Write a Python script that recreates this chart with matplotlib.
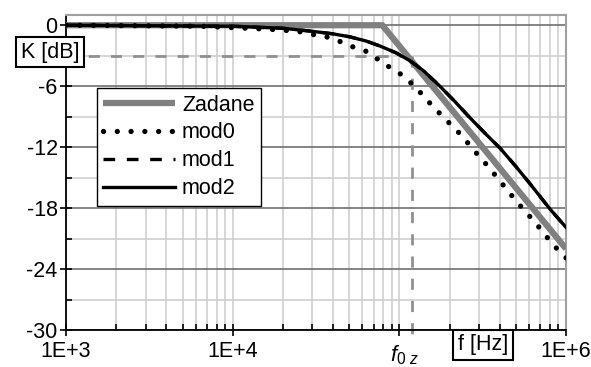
import numpy as np
import matplotlib
matplotlib.use("Agg")
import matplotlib.pyplot as plt
from matplotlib.ticker import FixedLocator, NullFormatter

plt.rcParams['font.family'] = ['Liberation Sans', 'DejaVu Sans']
plt.rcParams['mathtext.fontset'] = 'custom'
plt.rcParams['mathtext.rm'] = 'Liberation Sans'
plt.rcParams['mathtext.it'] = 'Liberation Sans:italic'

# data
zad_f = [1e3, 7.9e4, 1e6]
zad_db = [0, 0, -22]

mod0_f = [1e3, 6.4e3, 16.7e3, 24.6e3, 29.9e3, 35.8e3, 44e3, 52e3, 64e3, 73.5e3,
          86.7e3, 103.8e3, 119.5e3, 136.8e3, 157e3, 180e3, 207e3, 238e3, 273e3,
          305e3, 345e3, 391e3, 448e3, 508e3, 575e3, 652e3, 738e3, 836e3, 1e6]
mod0_db = [0, -0.1, -0.4, -0.6, -0.9, -1.1, -1.6, -2.1, -2.6, -3.3,
           -4.1, -4.9, -5.8, -6.8, -7.9, -8.9, -9.9, -10.9, -12.1,
           -13.0, -14.0, -15.1, -16.3, -17.4, -18.4, -19.4, -20.5, -21.6, -22.9]

mod2_f = [1e3, 10e3, 20e3, 30e3, 40e3, 50.6e3, 63e3, 76.6e3, 95e3, 115.9e3, 140e3,
          175e3, 215e3, 265e3, 325e3, 402e3, 500e3, 608e3, 802e3, 1e6]
mod2_db = [0, -0.1, -0.3, -0.6, -0.85, -1.15, -1.55, -2.05, -2.7, -3.5, -4.5,
           -6.0, -7.5, -9.1, -10.6, -12.1, -13.9, -15.6, -18.1, -19.9]

mod1_f = mod2_f
mod1_db = mod2_db

f0z = 1.19e5
k3db = -3

fig = plt.figure(figsize=(5.91, 3.67), dpi=100)
ax = fig.add_axes([0.1117, 0.1008, 0.8460, 0.8582])
ax.set_xscale('log')
ax.set_xlim(1e3, 1e6)
ax.set_ylim(-30, 1)

# grid
ax.yaxis.set_major_locator(FixedLocator(np.arange(-30, 1, 6)))
ax.yaxis.set_minor_locator(FixedLocator(np.arange(-27, 0, 6)))
ax.xaxis.set_major_locator(FixedLocator([1e3, 1e4, 1e5, 1e6]))
minors = [m * 10 ** d for d in (3, 4, 5) for m in range(2, 10)]
ax.xaxis.set_minor_locator(FixedLocator(minors))
ax.xaxis.set_minor_formatter(NullFormatter())
ax.set_xticklabels(['1E+3', '1E+4', '', '1E+6'])
ax.set_yticklabels([str(v) for v in range(-30, 1, 6)])
ax.grid(axis='y', which='major', color='#707070', lw=1.2)
ax.grid(axis='y', which='minor', color='#d0d0d0', lw=1.2)
ax.grid(axis='x', which='both', color='#d0d0d0', lw=1.2)
ax.set_axisbelow(True)

ax.tick_params(axis='both', which='major', direction='inout', length=8, width=1.2,
               labelsize=15.5, colors='black')
ax.tick_params(axis='both', which='minor', direction='in', length=4, width=1.2)
ax.tick_params(axis='x', which='major', pad=4)
ax.tick_params(axis='y', which='major', pad=2)
for s in ['left', 'bottom']:
    ax.spines[s].set_linewidth(1.3)
for s in ['top', 'right']:
    ax.spines[s].set_color('#a0a0a0')
    ax.spines[s].set_linewidth(1.5)

# reference lines
ax.plot([1e3, f0z], [k3db, k3db], color='#909090', lw=2, ls=(0, (4, 4)), zorder=2)
ax.plot([f0z, f0z], [k3db, -31.2], color='#909090', lw=2, ls=(0, (4, 4)),
        clip_on=False, zorder=2)

ax.plot(zad_f, zad_db, color='#808080', lw=4.5, solid_capstyle='butt',
        solid_joinstyle='miter', label='Zadane', zorder=3)
ax.plot(mod0_f, mod0_db, color='black', lw=3.8, ls=(0, (0.01, 2.6)),
        dash_capstyle='round', label='mod0', zorder=4)
ax.plot(mod1_f, mod1_db, color='black', lw=2.4, ls=(0, (3.5, 3.5)), label='mod1', zorder=4)
ax.plot(mod2_f, mod2_db, color='black', lw=2.4, label='mod2', zorder=5)

leg = ax.legend(loc='upper left', bbox_to_anchor=(0.062, 0.768), fontsize=15.5,
                handlelength=3.3, handletextpad=0.35, labelspacing=0.32,
                borderpad=0.3, borderaxespad=0, fancybox=False, framealpha=1)
leg.get_frame().set_edgecolor('black')
leg.get_frame().set_linewidth(1.0)

# boxed axis labels
fig.text(0.0846, 0.858, 'K [dB]', fontsize=15.5, ha='center', va='center',
         bbox=dict(boxstyle='square,pad=0.22', fc='white', ec='black', lw=1.5))
fig.text(0.817, 0.06, 'f [Hz]', fontsize=15.5, ha='center', va='center',
         bbox=dict(boxstyle='square,pad=0.22', fc='white', ec='black', lw=1.5))
fig.text(0.685, 0.0, r'$f_{0\ z}$', fontsize=16, ha='center', va='bottom')

fig.savefig('out.png', dpi=100)
